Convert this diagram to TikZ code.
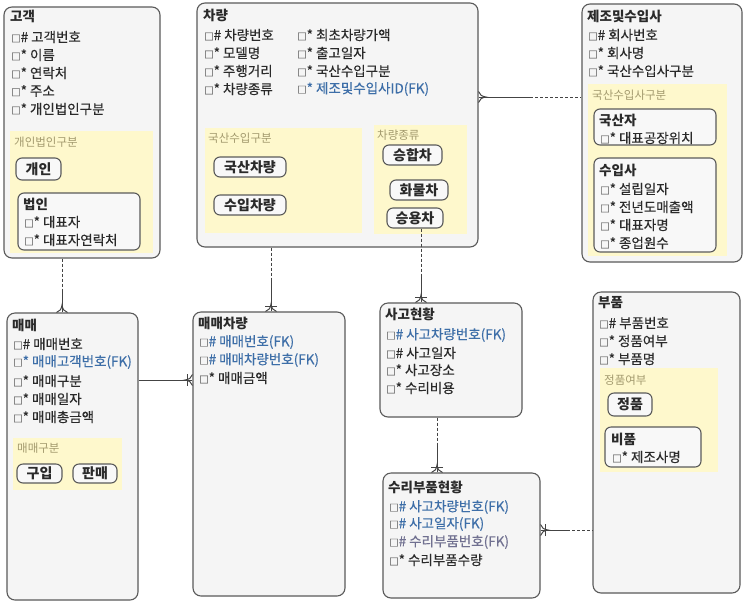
\documentclass[tikz,border=0pt]{standalone}
\usepackage{fontspec}
\setmainfont{Noto Sans CJK KR}
\newfontfamily\attfont{Noto Sans CJK KR}[FakeBold=0.3]
\usetikzlibrary{fit,calc}
\definecolor{entb}{HTML}{5A5A5A}
\definecolor{entf}{HTML}{F5F5F5}
\definecolor{subf}{HTML}{F8F8F8}
\definecolor{ylw}{HTML}{FEF8CC}
\definecolor{lab}{HTML}{A39A6E}
\definecolor{fkb}{HTML}{3D6EA8}
\definecolor{fkg}{HTML}{707090}
\definecolor{txt}{HTML}{2A2A2A}
\definecolor{sqgrey}{HTML}{7A7A7A}
\definecolor{lnc}{HTML}{444444}
\newcommand{\bx}{{\fontsize{9.5}{9.5}\selectfont\textcolor{sqgrey}{□}}}
\newcommand{\crowft}[2]{\begin{scope}[shift={#1},rotate=#2]\draw[conn] (0,5.5) .. controls (1,2.5) and (3,0.5) .. (7.5,0) .. controls (3,-0.5) and (1,-2.5) .. (0,-5.5);\end{scope}}
\newcommand{\crowbar}[2]{\begin{scope}[shift={#1},rotate=#2]\draw[conn] (4.5,6) -- (4.5,-6);\end{scope}}
\tikzset{
 ent/.style={draw=entb, fill=entf, line width=1.1pt, rounded corners=8pt, inner sep=0pt},
 grp/.style={fill=ylw, inner sep=0pt, draw=none},
 sub/.style={draw=entb, fill=subf, line width=1.1pt, rounded corners=6pt, inner sep=0pt},
 subt/.style={sub, font=\bfseries\fontsize{14}{14}\selectfont, text=txt},
 ttl/.style={anchor=west, inner sep=0pt, font=\bfseries\fontsize{13.5}{13.5}\selectfont, text=txt},
 att/.style={anchor=west, inner sep=0pt, font=\attfont\fontsize{13.5}{13.5}\selectfont, text=txt},
 fk/.style={att, text=fkb},
 fkgr/.style={att, text=fkg},
 glab/.style={anchor=west, inner sep=0pt, font=\fontsize{11.5}{11.5}\selectfont, text=lab},
 conn/.style={draw=lnc, line width=1pt},
 opt/.style={conn, dash pattern=on 3pt off 2pt},
}
\begin{document}
\begin{tikzpicture}[x=1pt,y=-1pt]
\useasboundingbox[fill=white] (0,0) rectangle (743,603);

% ---------- 고객 ----------
\node[ent, fit={(4,7)(160,258)}] (cust) {};
\node[ttl] (custT) at (10,16) {고객};
\node[att] (cust1) at (11,37) {\bx\# 고객번호};
\node[att] (cust2) at (11,55) {\bx* 이름};
\node[att] (cust3) at (11,73) {\bx* 연락처};
\node[att] (cust4) at (11,91) {\bx* 주소};
\node[att] (cust5) at (11,109) {\bx* 개인법인구분};
\node[grp, fit={(10,131)(153,253)}] (custG) {};
\node[glab] (custGL) at (14,142) {개인법인구분};
\node[subt, minimum width=45pt, minimum height=22pt] (gaein) at (38.5,169) {개인};
\node[sub, fit={(18,193)(140,250)}] (beopin) {};
\node[ttl] (beopinT) at (23,204) {법인};
\node[att] (beopin1) at (24,222) {\bx* 대표자};
\node[att] (beopin2) at (24,240) {\bx* 대표자연락처};

% ---------- 차량 ----------
\node[ent, fit={(197,3)(478,247)}] (car) {};
\node[ttl] (carT) at (203,15) {차량};
\node[att] (car1) at (204,35) {\bx\# 차량번호};
\node[att] (car2) at (204,53) {\bx* 모델명};
\node[att] (car3) at (204,71) {\bx* 주행거리};
\node[att] (car4) at (204,89) {\bx* 차량종류};
\node[att] (car5) at (297,35) {\bx* 최초차량가액};
\node[att] (car6) at (297,53) {\bx* 출고일자};
\node[att] (car7) at (297,71) {\bx* 국산수입구분};
\node[fk] (car8) at (297,89) {\bx* 제조및수입사ID(FK)};
\node[grp, fit={(205,128)(362,233)}] (carG1) {};
\node[glab] (carG1L) at (208,138) {국산수입구분};
\node[subt, minimum width=72pt, minimum height=20pt] (carDom) at (250,167) {국산차량};
\node[subt, minimum width=72pt, minimum height=20pt] (carImp) at (250,205) {수입차량};
\node[grp, fit={(374,125)(467,234)}] (carG2) {};
\node[glab] (carG2L) at (377,135) {차량종류};
\node[subt, minimum width=59pt, minimum height=20pt] (carVan) at (412.5,155) {승합차};
\node[subt, minimum width=58pt, minimum height=20pt] (carTruck) at (419,190) {화물차};
\node[subt, minimum width=56pt, minimum height=20pt] (carSY) at (415,218) {승용차};

% ---------- 제조및수입사 ----------
\node[ent, fit={(582,4)(742,262)}] (mfr) {};
\node[ttl] (mfrT) at (587,16) {제조및수입사};
\node[att] (mfr1) at (588,35) {\bx\# 회사번호};
\node[att] (mfr2) at (588,53) {\bx* 회사명};
\node[att] (mfr3) at (588,71) {\bx* 국산수입사구분};
\node[grp, fit={(588,84)(727,256)}] (mfrG) {};
\node[glab] (mfrGL) at (592,95) {국산수입사구분};
\node[sub, fit={(594,109)(716,145)}] (mfrDom) {};
\node[ttl] (mfrDomT) at (599,120) {국산자};
\node[att] (mfrDom1) at (600,138) {\bx* 대표공장위치};
\node[sub, fit={(594,158)(716,252)}] (mfrImp) {};
\node[ttl] (mfrImpT) at (599,170) {수입사};
\node[att] (mfrImp1) at (600,189) {\bx* 설립일자};
\node[att] (mfrImp2) at (600,207) {\bx* 전년도매출액};
\node[att] (mfrImp3) at (600,225) {\bx* 대표자명};
\node[att] (mfrImp4) at (600,243) {\bx* 종업원수};

% ---------- 매매 ----------
\node[ent, fit={(7,313)(138,600)}] (mm) {};
\node[ttl] (mmT) at (12,325) {매매};
\node[att] (mm1) at (13,344) {\bx\# 매매번호};
\node[fk] (mm2) at (13,362) {\bx* 매매고객번호(FK)};
\node[att] (mm3) at (13,381) {\bx* 매매구분};
\node[att] (mm4) at (13,399) {\bx* 매매일자};
\node[att] (mm5) at (13,417) {\bx* 매매총금액};
\node[grp, fit={(13,438)(122,490)}] (mmG) {};
\node[glab] (mmGL) at (17,448) {매매구분};
\node[subt, minimum width=45pt, minimum height=19pt] (mmBuy) at (39.5,473.5) {구입};
\node[subt, minimum width=44pt, minimum height=19pt] (mmSell) at (95,473.5) {판매};

% ---------- 매매차량 ----------
\node[ent, fit={(193,312)(345,596)}] (mmcar) {};
\node[ttl] (mmcarT) at (198,323) {매매차량};
\node[fk] (mmcar1) at (199,342) {\bx\# 매매번호(FK)};
\node[fk] (mmcar2) at (199,360) {\bx\# 매매차량번호(FK)};
\node[att] (mmcar3) at (199,378) {\bx* 매매금액};

% ---------- 사고현황 ----------
\node[ent, fit={(380,303)(522,417)}] (acc) {};
\node[ttl] (accT) at (385,314) {사고현황};
\node[fk] (acc1) at (386,335) {\bx\# 사고차량번호(FK)};
\node[att] (acc2) at (386,353) {\bx\# 사고일자};
\node[att] (acc3) at (386,370) {\bx* 사고장소};
\node[att] (acc4) at (386,388) {\bx* 수리비용};

% ---------- 수리부품현황 ----------
\node[ent, fit={(383,473)(540,598)}] (rep) {};
\node[ttl] (repT) at (388,487) {수리부품현황};
\node[fk] (rep1) at (389,507) {\bx\# 사고차량번호(FK)};
\node[fk] (rep2) at (389,524) {\bx\# 사고일자(FK)};
\node[fkgr] (rep3) at (389,542) {\bx\# 수리부품번호(FK)};
\node[att] (rep4) at (389,560) {\bx* 수리부품수량};

% ---------- 부품 ----------
\node[ent, fit={(593,292)(740,593)}] (part) {};
\node[ttl] (partT) at (598,303) {부품};
\node[att] (part1) at (599,323) {\bx\# 부품번호};
\node[att] (part2) at (599,341) {\bx* 정품여부};
\node[att] (part3) at (599,359) {\bx* 부품명};
\node[grp, fit={(600,368)(718,472)}] (partG) {};
\node[glab] (partGL) at (604,380) {정품여부};
\node[subt, minimum width=44pt, minimum height=23pt] (partGen) at (630,404.5) {정품};
\node[sub, fit={(605,427)(701,467)}] (partNon) {};
\node[ttl] (partNonT) at (611,439) {비품};
\node[att] (partNon1) at (612,457) {\bx* 제조사명};

% ---------- connectors ----------
\coordinate (k1) at (62,292);
\draw[opt] (cust.south -| k1) -- (k1);
\draw[conn] (k1) -- (mm.north -| k1);
\crowft{(mm.north -| k1)}{90}

\coordinate (k2) at (271,280);
\draw[opt] (car.south -| k2) -- (k2);
\draw[conn] (k2) -- (mmcar.north -| k2);
\crowft{(mmcar.north -| k2)}{90}
\crowbar{(mmcar.north -| k2)}{90}

\coordinate (k3) at (421,275);
\draw[opt] (carSY.south -| k3) -- (k3);
\draw[conn] (k3) -- (acc.north -| k3);
\crowft{(acc.north -| k3)}{90}
\crowbar{(acc.north -| k3)}{90}

\coordinate (k4) at (437,445);
\draw[opt] (acc.south -| k4) -- (k4);
\draw[conn] (k4) -- (rep.north -| k4);
\crowft{(rep.north -| k4)}{90}
\crowbar{(rep.north -| k4)}{90}

\coordinate (k5) at (160,380);
\draw[conn] (mm.east |- k5) -- (mmcar.west |- k5);
\crowft{(mmcar.west |- k5)}{180}
\crowbar{(mmcar.west |- k5)}{180}

\coordinate (k6) at (567,530);
\draw[conn] (rep.east |- k6) -- (k6);
\draw[opt] (k6) -- (part.west |- k6);
\crowft{(rep.east |- k6)}{0}
\crowbar{(rep.east |- k6)}{0}

\coordinate (k7) at (530,97);
\draw[conn] (car.east |- k7) -- (k7);
\draw[opt] (k7) -- (mfr.west |- k7);
\crowft{(car.east |- k7)}{0}
\end{tikzpicture}
\end{document}
